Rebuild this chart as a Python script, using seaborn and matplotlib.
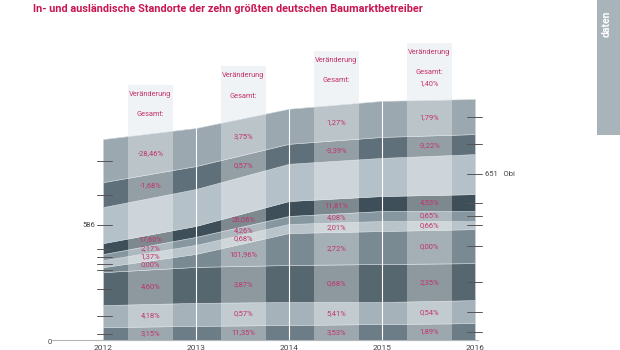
import numpy as np
import matplotlib
matplotlib.use("Agg")
import matplotlib.pyplot as plt
from matplotlib.patches import Rectangle
import seaborn as sns

# Standorte (in- und ausländisch) je Betreiber, von unten nach oben gestapelt
years = [2012, 2013, 2014, 2015, 2016]
band_01 = [210, 230, 245, 260, 275]
band_02 = [358, 374, 374, 358, 374]
band_03 = [537, 586, 602, 619, 602]
band_04 = [81, 212, 521, 537, 554]
band_05 = [114, 147, 147, 163, 130]
band_06 = [98, 130, 130, 163, 163]
band_07 = [179, 179, 244, 244, 277]
band_obi = [586, 600, 605, 620, 651]
band_09 = [407, 374, 326, 342, 326]
band_10 = [700, 619, 570, 586, 570]
bands = [band_01, band_02, band_03, band_04, band_05,
         band_06, band_07, band_obi, band_09, band_10]

# Veraenderung je Zeitraum (gleiche Reihenfolge, Obi ohne Wert)
change_12_13 = ["3,15%", "4,18%", "4,60%", "0,00%", "1,37%", "2,17%", "17,60%", "", "-1,68%", "-28,46%"]
change_13_14 = ["11,35%", "0,57%", "3,87%", "101,96%", "0,68%", "4,26%", "26,06%", "", "0,57%", "3,75%"]
change_14_15 = ["3,53%", "5,41%", "0,68%", "2,72%", "2,01%", "4,08%", "11,81%", "", "-3,39%", "1,27%"]
change_15_16 = ["1,89%", "0,54%", "2,35%", "0,00%", "0,66%", "0,65%", "4,53%", "", "-3,22%", "1,79%"]
changes = [change_12_13, change_13_14, change_14_15, change_15_16]
change_total = ["", "", "", "1,40%"]

band_colors = ["#6d7d87", "#a5b2b9", "#56676f", "#7a8a93", "#b9c4ca",
               "#8797a0", "#3e4f59", "#b5c1c8", "#5f707a", "#9ba8b0"]

sns.set_style("white")
plt.rcParams["font.family"] = ["Roboto", "DejaVu Sans"]

PX = 586 / 36  # stores per pixel


def py(row):
    # pixel row of the figure -> data value
    return (340 - row) * PX


fig = plt.figure(figsize=(6.2, 3.5), dpi=100, facecolor="white")
ax = fig.add_axes([103 / 620, 10 / 350, 372 / 620, 310 / 350])
ax.set_xlim(2012, 2016)
ax.set_ylim(0, 310 * PX)
ax.axis("off")

data = np.array(bands, dtype=float)
top = np.cumsum(data, axis=0)
low = np.vstack([np.zeros(len(years)), top[:-1]])
mid = (top + low) / 2

ax.stackplot(years, *bands, colors=band_colors, edgecolor="#cdd5da",
             linewidth=0.4, zorder=1)

# helle Spalten mit den Veraenderungen
strip_rows = [85, 66, 51, 43]
pink = "#c2336a"
for i, y0 in enumerate(years[:-1]):
    x0, w = y0 + 0.27, 0.48
    h = py(strip_rows[i])
    ax.add_patch(Rectangle((x0, 0), w, h, fc="#e9eef3", ec="none", zorder=0))
    ax.add_patch(Rectangle((x0, 0), w, h, fc="white", alpha=0.33, ec="none", zorder=2))
    xm = y0 + 0.51
    ax.text(xm, py(strip_rows[i] + 10), "Veränderung", ha="center", va="center",
            fontsize=5.3, color=pink, zorder=5)
    ax.text(xm, py(strip_rows[i] + 30), "Gesamt:", ha="center", va="center",
            fontsize=5.3, color=pink, zorder=5)
    if change_total[i]:
        ax.text(xm, py(strip_rows[i] + 41), change_total[i], ha="center", va="center",
                fontsize=5.3, color=pink, zorder=5)
    for j, lab in enumerate(changes[i]):
        if lab:
            yc = np.interp(xm, years, mid[j])
            ax.text(xm, yc, lab, ha="center", va="center", fontsize=5.4,
                    color=pink, zorder=5)

ax.vlines(years[1:-1], 0, top[-1][1:-1], color="white", lw=0.8, zorder=3)

# Markierungen an den Raendern
for j in range(len(bands)):
    ax.plot([2011.935, 2012.097], [mid[j][0]] * 2, color="#555555", lw=0.7,
            clip_on=False, zorder=4)
    ax.plot([2015.914, 2016.075], [mid[j][-1]] * 2, color="#555555", lw=0.7,
            clip_on=False, zorder=4)
ax.text(2011.92, mid[7][0], str(band_obi[0]), ha="right", va="center",
        fontsize=5.5, color="#444444")
ax.text(2016.11, mid[7][-1], f"{band_obi[-1]}   Obi", ha="left", va="center",
        fontsize=5.5, color="#444444")

ax.plot([2011.45, 2016.03], [0, 0], color="#b5b5b5", lw=0.8, clip_on=False, zorder=0)
ax.text(2011.43, py(342), "0", ha="center", va="center", fontsize=5.5, color="#444444")
for y in years:
    ax.text(y, py(344.5), str(y), ha="center", va="top", fontsize=6, color="#444444",
            clip_on=False)

fig.text(33 / 620, 1 - 9 / 350,
         "In- und ausländische Standorte der zehn größten deutschen Baumarktbetreiber",
         ha="left", va="center", fontsize=7.85, weight="bold", color="#c8174f")

fig.patches.append(Rectangle((597 / 620, 1 - 135 / 350), 23 / 620, 135 / 350,
                             transform=fig.transFigure, fc="#a9b3ba", ec="none"))
fig.text(607 / 620, 1 - 24 / 350, "daten", rotation=90, ha="center", va="center",
         fontsize=7.5, weight="bold", color="white")

fig.savefig("out.png", dpi=100)
